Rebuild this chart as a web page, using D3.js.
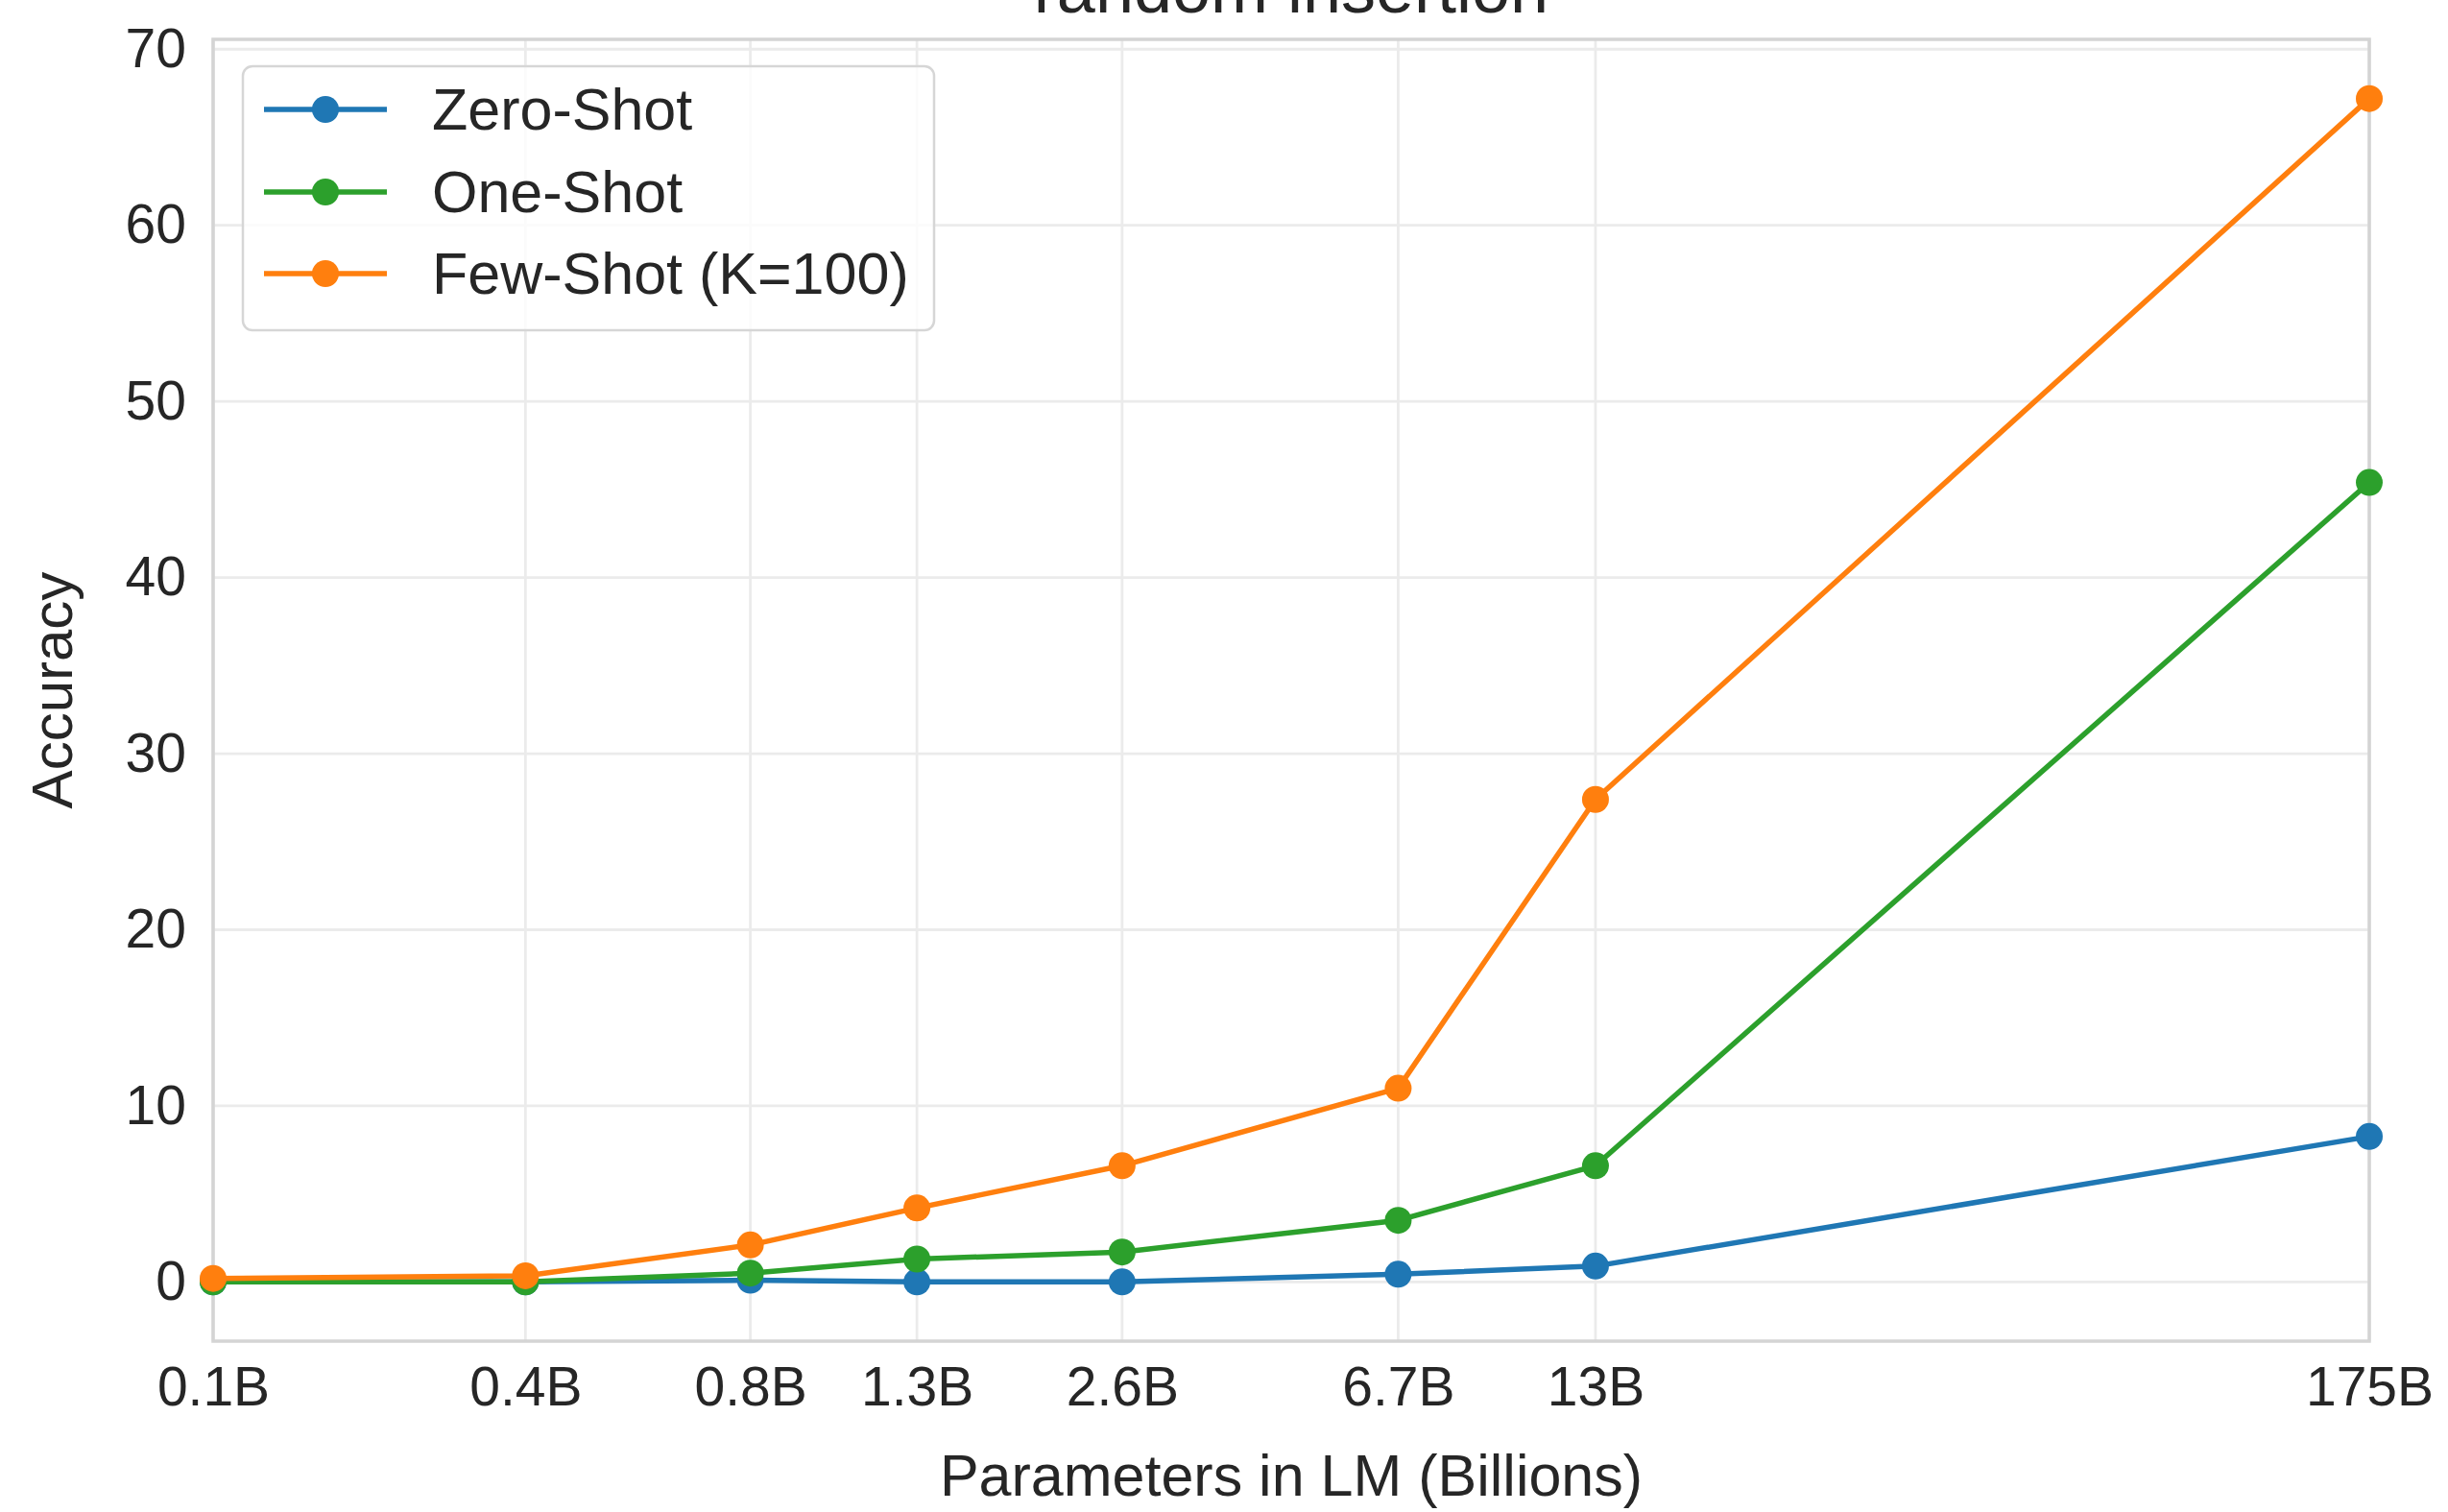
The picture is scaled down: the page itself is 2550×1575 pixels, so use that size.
<!DOCTYPE html>
<html>
<head>
<meta charset="utf-8">
<script src="https://cdn.jsdelivr.net/npm/d3@7"></script>
<style>
  html, body { margin: 0; padding: 0; background: #ffffff; }
  svg { display: block; }
  text { font-family: "Liberation Sans", Arial, Helvetica, sans-serif; fill: #262626; }
</style>
</head>
<body>
<script>
// ---- data ----
const paramsB = [0.125, 0.357, 0.76, 1.33, 2.65, 6.7, 13, 175];
const tickLabels = ["0.1B", "0.4B", "0.8B", "1.3B", "2.6B", "6.7B", "13B", "175B"];
const zeroShot = [0.0, 0.0, 0.1, 0.0, 0.0, 0.44, 0.9, 8.26];
const oneShot = [0.0, 0.0, 0.5, 1.3, 1.7, 3.5, 6.6, 45.4];
const fewShot = [0.2, 0.35, 2.1, 4.2, 6.6, 11.0, 27.4, 67.2];
const yTicks = [0, 10, 20, 30, 40, 50, 60, 70];
const seriesNames = ["Zero-Shot", "One-Shot", "Few-Shot (K=100)"];
const seriesColors = ["#1f77b4", "#2ca02c", "#ff7f0e"];
const titleText = "random insertion";
const xLabel = "Parameters in LM (Billions)";
const yLabel = "Accuracy";

// ---- layout ----
const W = 2550, H = 1575;
const plot = { left: 222, right: 2468, top: 41, bottom: 1397 };

const svg = d3.select("body").append("svg").attr("width", W).attr("height", H);

const x = d3.scaleLog().domain([paramsB[0], paramsB[paramsB.length - 1]]).range([plot.left, plot.right]);
const yMax = d3.max(fewShot), yMin = 0;
const pad = (yMax - yMin) * 0.05;
const y = d3.scaleLinear().domain([yMin - pad, yMax + pad]).range([plot.bottom, plot.top]);

// clip
svg.append("defs").append("clipPath").attr("id", "clip")
  .append("rect").attr("x", plot.left - 20).attr("y", plot.top - 20)
  .attr("width", plot.right - plot.left + 40).attr("height", plot.bottom - plot.top + 40);

// grid
const grid = svg.append("g");
grid.selectAll("line.h").data(yTicks).enter().append("line")
  .attr("x1", plot.left).attr("x2", plot.right)
  .attr("y1", d => y(d)).attr("y2", d => y(d))
  .attr("stroke", "#ebebeb").attr("stroke-width", 2.8);
grid.selectAll("line.v").data(paramsB).enter().append("line")
  .attr("y1", plot.top).attr("y2", plot.bottom)
  .attr("x1", d => x(d)).attr("x2", d => x(d))
  .attr("stroke", "#ebebeb").attr("stroke-width", 2.8);

// frame
svg.append("rect").attr("x", plot.left).attr("y", plot.top)
  .attr("width", plot.right - plot.left).attr("height", plot.bottom - plot.top)
  .attr("fill", "none").attr("stroke", "#d4d4d4").attr("stroke-width", 3.5);

// y ticks
const yAxis = d3.axisLeft(y).tickValues(yTicks).tickSize(0).tickPadding(28).tickFormat(d3.format("d"));
const gy = svg.append("g").attr("transform", `translate(${plot.left},0)`).call(yAxis);
gy.select(".domain").remove();
gy.selectAll("text").attr("font-size", 57).style("fill", "#262626")
  .attr("font-family", '"Liberation Sans", Arial, sans-serif');

// x ticks
const xAxis = d3.axisBottom(x).tickValues(paramsB).tickSize(0).tickPadding(27)
  .tickFormat((d, i) => tickLabels[i]);
const gx = svg.append("g").attr("transform", `translate(0,${plot.bottom})`).call(xAxis);
gx.select(".domain").remove();
gx.selectAll("text").attr("font-size", 57).style("fill", "#262626")
  .attr("font-family", '"Liberation Sans", Arial, sans-serif');

// series
const allSeries = [zeroShot, oneShot, fewShot];
const lineGen = d3.line().x((d, i) => x(paramsB[i])).y(d => y(d));
const data = svg.append("g").attr("clip-path", "url(#clip)");
allSeries.forEach((vals, s) => {
  data.append("path").datum(vals)
    .attr("d", lineGen).attr("fill", "none")
    .attr("stroke", seriesColors[s]).attr("stroke-width", 5.5)
    .attr("stroke-linejoin", "round");
  data.selectAll(null).data(vals).enter().append("circle")
    .attr("cx", (d, i) => x(paramsB[i])).attr("cy", d => y(d))
    .attr("r", 14).attr("fill", seriesColors[s]);
});

// legend
const lg = svg.append("g");
lg.append("rect").attr("x", 253).attr("y", 69).attr("width", 720).attr("height", 275)
  .attr("rx", 10).attr("ry", 10)
  .attr("fill", "rgba(255,255,255,0.8)").attr("stroke", "#d6d6d6").attr("stroke-width", 2.5);
const rowsY = [114, 200, 285];
seriesNames.forEach((name, s) => {
  lg.append("line").attr("x1", 275).attr("x2", 403).attr("y1", rowsY[s]).attr("y2", rowsY[s])
    .attr("stroke", seriesColors[s]).attr("stroke-width", 5.5);
  lg.append("circle").attr("cx", 339).attr("cy", rowsY[s]).attr("r", 14).attr("fill", seriesColors[s]);
  lg.append("text").attr("x", 450).attr("y", rowsY[s]).attr("dy", "0.35em")
    .attr("font-size", 61).text(name);
});

// title (partially cropped at top, as in the reference)
svg.append("text").attr("x", (plot.left + plot.right) / 2).attr("y", 13)
  .attr("text-anchor", "middle").attr("font-size", 72).text(titleText);

// axis labels
svg.append("text").attr("x", (plot.left + plot.right) / 2).attr("y", 1558)
  .attr("text-anchor", "middle").attr("font-size", 61).text(xLabel);
svg.append("text").attr("transform", `translate(75,${(plot.top + plot.bottom) / 2}) rotate(-90)`)
  .attr("text-anchor", "middle").attr("font-size", 60).text(yLabel);
</script>
</body>
</html>
